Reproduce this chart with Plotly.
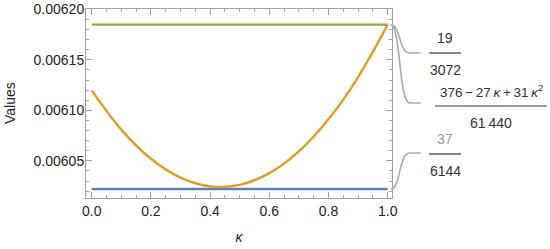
import plotly.graph_objects as go

# values
kappa = [0.0, 0.1, 0.2, 0.3, 0.4, 0.5, 0.6, 0.7, 0.8, 0.9, 1.0]
blue_vals = [0.0060221] * len(kappa)
orange_vals = [0.0061198, 0.0060809, 0.0060521, 0.0060334, 0.0060247, 0.0060262,
               0.0060378, 0.0060594, 0.0060911, 0.0061330, 0.0061849]
green_vals = [0.0061849] * len(kappa)

x_ticks = [0.0, 0.2, 0.4, 0.6, 0.8, 1.0]
y_ticks = [0.00605, 0.00610, 0.00615, 0.00620]

W, H = 550, 249
L, R, T, B = 86, 158, 9, 51
xr = [-0.0193, 1.0145]
yr = [0.0060132, 0.0062004]

def px(x):  # pixel -> paper x
    return (x - L) / (W - L - R)

def py(y):  # pixel -> paper y
    return (H - B - y) / (H - T - B)

def ypix(v):  # data value -> pixel y
    return (H - B) - (v - yr[0]) / (yr[1] - yr[0]) * (H - T - B)

def xpix(v):
    return L + (v - xr[0]) / (xr[1] - xr[0]) * (W - L - R)

fig = go.Figure()
for vals, col in [(blue_vals, '#5E81B5'), (orange_vals, '#E19C24'), (green_vals, '#8FB032')]:
    fig.add_trace(go.Scatter(x=kappa, y=vals, mode='lines',
                             line=dict(color=col, width=2.4, shape='spline'),
                             showlegend=False, cliponaxis=False, hoverinfo='skip'))

grey = '#aaaaaa'
shapes = []
def callout(v, ty):
    x0, y0 = xpix(kappa[-1]) + 3, ypix(v)
    p = (f"M {px(x0)},{py(y0)} C {px(x0 + 10)},{py(y0)} {px(x0 + 8)},{py(ty)} "
         f"{px(x0 + 19)},{py(ty)} L {px(x0 + 30)},{py(ty)}")
    shapes.append(dict(type='path', path=p, xref='paper', yref='paper',
                       line=dict(color=grey, width=1.6)))

callout(green_vals[-1], 53)
callout(orange_vals[-1], 103)
callout(blue_vals[-1], 153)

anns = []
def frac(xc, ybar, half, num, den, numcol='#333', size=14):
    shapes.append(dict(type='line', xref='paper', yref='paper',
                       x0=px(xc - half), x1=px(xc + half), y0=py(ybar), y1=py(ybar),
                       line=dict(color='#333', width=1.2)))
    anns.append(dict(x=px(xc), y=py(ybar - 15), text=num, xref='paper', yref='paper',
                     xanchor='center', yanchor='middle',
                     showarrow=False, font=dict(size=size, color=numcol)))
    anns.append(dict(x=px(xc), y=py(ybar + 17), text=den, xref='paper', yref='paper',
                     xanchor='center', yanchor='middle',
                     showarrow=False, font=dict(size=14, color='#333')))

frac(445, 53, 16, '19', '3072')
frac(491, 106, 56, '376\u2009\u2212\u200927\u2009<i>κ</i>\u2009+\u200931\u2009<i>κ</i><sup>2</sup>',
     '61\u2009440', size=13.5)
frac(445, 154, 16, '37', '6144', numcol='#999')

# y axis title placed by hand, closer to the edge than plotly's standoff allows
anns.append(dict(x=px(9.5), y=py(103.5), text='Values', textangle=-90, xref='paper', yref='paper',
                 xanchor='center', yanchor='middle', showarrow=False,
                 font=dict(size=14, color='#222')))

axis_common = dict(showline=True, linecolor='#a0a0a0', linewidth=1, mirror='ticks',
                   ticks='inside', tickcolor='#a0a0a0', ticklen=6, showgrid=False,
                   zeroline=False, automargin=False,
                   tickfont=dict(family='Liberation Sans', size=14, color='#222'))

fig.update_layout(
    width=W, height=H, margin=dict(l=L, r=R, t=T, b=B),
    plot_bgcolor='white', paper_bgcolor='white',
    font=dict(family='Liberation Sans', color='#222'),
    xaxis=dict(range=xr, tickvals=x_ticks, tickformat='.1f',
               minor=dict(ticks='inside', dtick=0.05, tick0=0, ticklen=3, tickcolor='#a0a0a0'),
               title=dict(text='<i>κ</i>', font=dict(size=14), standoff=14), **axis_common),
    yaxis=dict(range=yr, tickvals=y_ticks, tickformat='.5f', ticklabelstandoff=-2,
               minor=dict(ticks='inside', dtick=0.00001, tick0=0.006, ticklen=3, tickcolor='#a0a0a0'),
               **axis_common),
    shapes=shapes, annotations=anns,
)

# drop the browser's default 8px body margin so the figure sits at the page corner
fig.write_html("out.html", config={'displayModeBar': False},
               post_script="document.body.style.margin='0';")
